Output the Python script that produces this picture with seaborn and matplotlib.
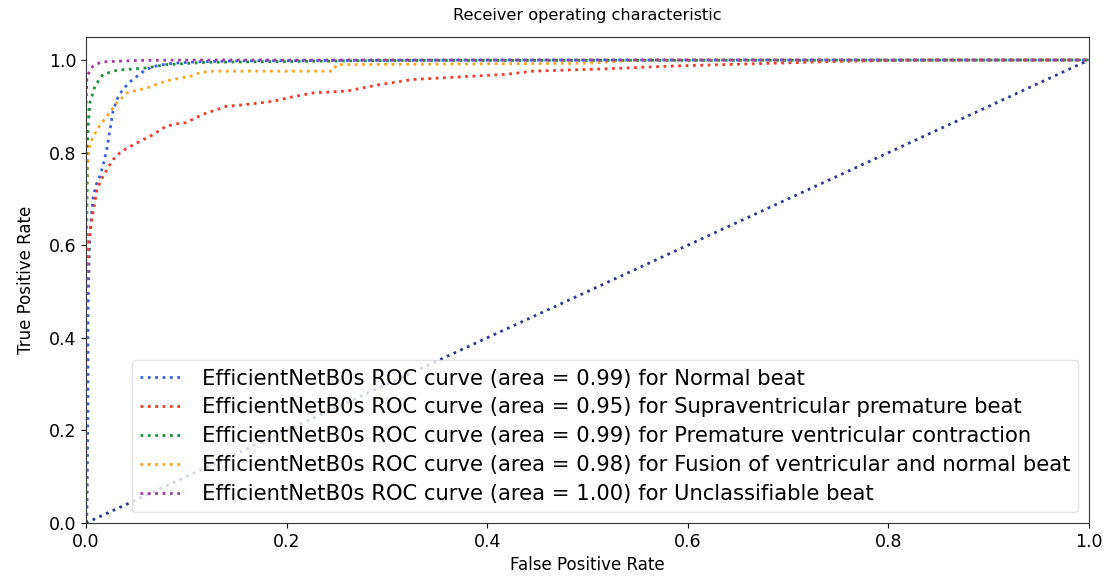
import matplotlib
matplotlib.use("Agg")
import matplotlib.pyplot as plt
import seaborn as sns
import pandas as pd

# ---- data ----
normal_fpr = [0, 0.001, 0.002, 0.002, 0.003, 0.004, 0.007, 0.010, 0.014, 0.018, 0.021, 0.024, 0.027,
              0.032, 0.037, 0.044, 0.051, 0.059, 0.067, 0.077, 0.087, 0.11, 0.15, 0.25, 0.4, 0.6, 0.8, 1.0]
normal_tpr = [0, 0.02, 0.25, 0.45, 0.55, 0.63, 0.70, 0.73, 0.75, 0.78, 0.81, 0.85, 0.89,
              0.92, 0.937, 0.953, 0.965, 0.978, 0.986, 0.990, 0.993, 0.996, 0.998, 0.999, 1.0, 1.0, 1.0, 1.0]

supra_fpr = [0, 0.0, 0.001, 0.003, 0.005, 0.007, 0.011, 0.016, 0.021, 0.027, 0.034, 0.042, 0.051, 0.059,
             0.067, 0.080, 0.090, 0.100, 0.117, 0.14, 0.16, 0.187, 0.205, 0.227, 0.26, 0.293, 0.326, 0.36,
             0.393, 0.419, 0.446, 0.519, 0.585, 0.685, 0.75, 0.85, 1.0]
supra_tpr = [0, 0.35, 0.55, 0.61, 0.64, 0.67, 0.72, 0.745, 0.764, 0.785, 0.80, 0.811, 0.821, 0.83,
             0.839, 0.857, 0.862, 0.865, 0.883, 0.90, 0.904, 0.911, 0.92, 0.929, 0.933, 0.947, 0.958, 0.962,
             0.966, 0.969, 0.976, 0.981, 0.987, 0.993, 0.997, 1.0, 1.0]

pvc_fpr = [0, 0, 0.001, 0.002, 0.004, 0.009, 0.017, 0.031, 0.06, 0.08, 0.12, 0.3, 1.0]
pvc_tpr = [0, 0.55, 0.68, 0.85, 0.908, 0.944, 0.969, 0.978, 0.983, 0.99, 0.995, 0.999, 1.0]

fusion_fpr = [0, 0, 0.0007, 0.001, 0.004, 0.011, 0.021, 0.031, 0.041, 0.061, 0.080, 0.104, 0.114,
              0.127, 0.246, 0.25, 0.5, 0.55, 1.0]
fusion_tpr = [0, 0.5, 0.70, 0.764, 0.82, 0.85, 0.879, 0.908, 0.929, 0.94, 0.955, 0.965, 0.973,
              0.976, 0.976, 0.99, 0.993, 1.0, 1.0]

unclass_fpr = [0, 0, 0.001, 0.007, 0.0155, 0.05, 0.1, 1.0]
unclass_tpr = [0, 0.9, 0.965, 0.987, 0.996, 0.999, 1.0, 1.0]

class_names = ["Normal beat", "Supraventricular premature beat", "Premature ventricular contraction",
               "Fusion of ventricular and normal beat", "Unclassifiable beat"]
aucs = [0.99, 0.95, 0.99, 0.98, 1.00]
colors = ["#3a5fd9", "#ee3b2b", "#1f8f3a", "#f5a623", "#9a3fa0"]
chance_x = [0, 1]
chance_y = [0, 1]

curves = [(normal_fpr, normal_tpr), (supra_fpr, supra_tpr), (pvc_fpr, pvc_tpr),
          (fusion_fpr, fusion_tpr), (unclass_fpr, unclass_tpr)]

fig = plt.figure(figsize=(11.09, 5.76), dpi=100)
ax = fig.add_axes([0.0775, 0.092, 0.9045, 0.844])

lw = 2.0
for (fpr, tpr), name, auc, col in zip(curves, class_names, aucs, colors):
    df = pd.DataFrame({"fpr": fpr, "tpr": tpr})
    sns.lineplot(data=df, x="fpr", y="tpr", ax=ax, sort=False, estimator=None,
                 color=col, linestyle=":", linewidth=lw,
                 label=f"EfficientNetB0s ROC curve (area = {auc:.2f}) for {name}")

sns.lineplot(x=chance_x, y=chance_y, ax=ax, color="#2b3a8f", linestyle=":", linewidth=lw)

ax.set_xlim(0.0, 1.0)
ax.set_ylim(0.0, 1.05)
ax.set_xlabel("False Positive Rate", fontsize=12, labelpad=4)
ax.set_ylabel("True Positive Rate", fontsize=12, labelpad=10)
ax.set_title("Receiver operating characteristic", fontsize=11.6, pad=12)
ax.tick_params(labelsize=12.5)
for s in ax.spines.values():
    s.set_color("#333333")
ax.legend(loc="lower right", fontsize=15.2, labelspacing=0.42, handlelength=2.0,
          handletextpad=0.9, edgecolor="#dddddd")

fig.savefig("out.png", dpi=100)
